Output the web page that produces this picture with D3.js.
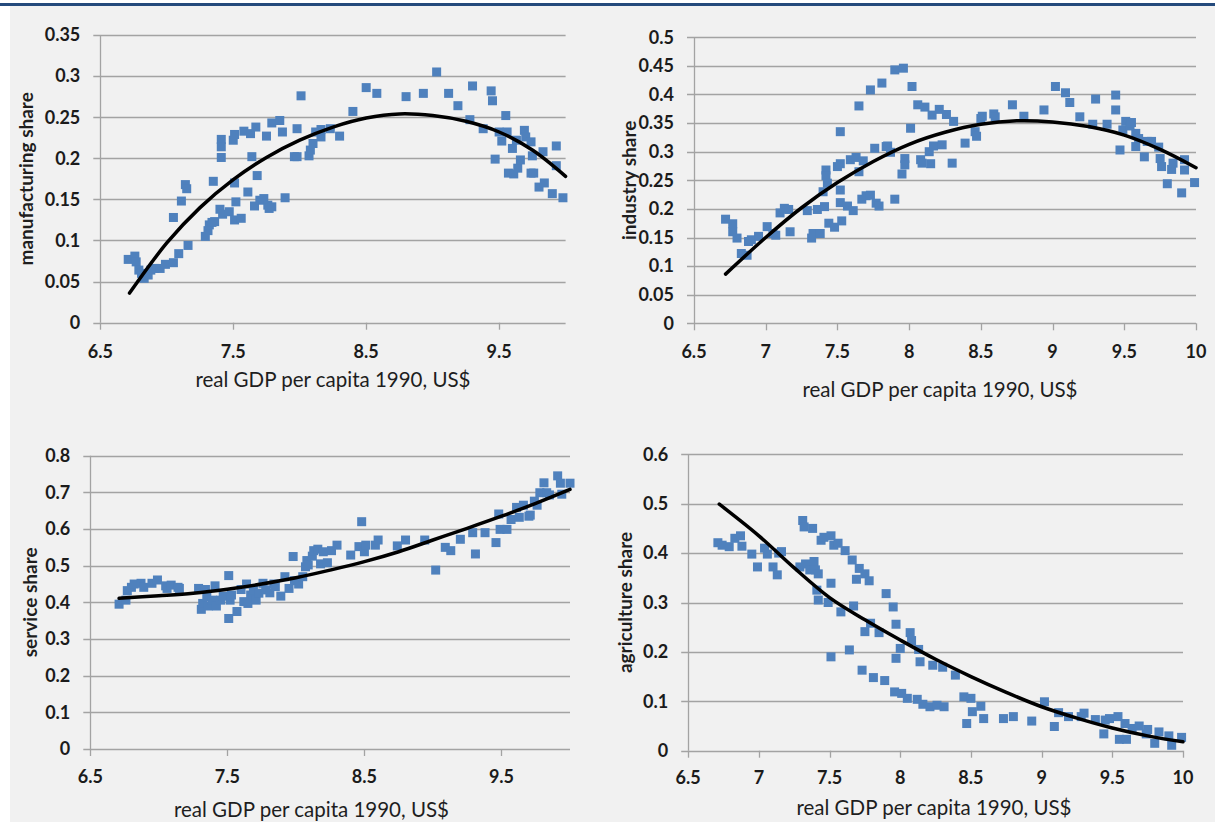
<!DOCTYPE html>
<html>
<head>
<meta charset="utf-8">
<script src="https://cdn.jsdelivr.net/npm/d3@7"></script>
<style>
  body { margin: 0; background: #fff; }
  svg { display: block; }
  .tick-lab { font-family: Lato, "Open Sans", sans-serif; font-weight: bold; font-size: 18px; fill: #1b1b1b; }
  .x-title { font-family: Lato, "Open Sans", sans-serif; font-size: 20.5px; fill: #1e1e1e; }
  .y-title { font-family: Lato, "Open Sans", sans-serif; font-weight: bold; font-size: 19px; fill: #1e1e1e; }
</style>
</head>
<body>
<svg id="chart"></svg>
<script>
var w = 1215;
var h = 823;

// tick labels
var xTicksWide = [6.5, 7.5, 8.5, 9.5];
var xTicksHalf = [6.5, 7, 7.5, 8, 8.5, 9, 9.5, 10];
var yTicksManuf = [0, 0.05, 0.1, 0.15, 0.2, 0.25, 0.3, 0.35];
var yTicksIndus = [0, 0.05, 0.1, 0.15, 0.2, 0.25, 0.3, 0.35, 0.4, 0.45, 0.5];
var yTicksServ = [0, 0.1, 0.2, 0.3, 0.4, 0.5, 0.6, 0.7, 0.8];
var yTicksAgri = [0, 0.1, 0.2, 0.3, 0.4, 0.5, 0.6];

// scatter points [log gdp, share]
var manufacturingPts = [
  [6.71,0.077],[6.76,0.081],[6.77,0.074],[6.79,0.064],[6.81,0.060],[6.83,0.054],[6.86,0.058],
  [6.88,0.064],[6.91,0.066],[6.95,0.066],[6.99,0.071],[7.05,0.073],[7.09,0.084],[7.05,0.128],
  [7.11,0.148],[7.14,0.168],[7.15,0.163],[7.16,0.094],[7.29,0.105],[7.31,0.112],[7.32,0.119],
  [7.34,0.122],[7.36,0.123],[7.35,0.172],[7.40,0.138],[7.41,0.201],[7.41,0.223],[7.41,0.214],
  [7.42,0.132],[7.47,0.135],[7.50,0.222],[7.51,0.229],[7.51,0.170],[7.51,0.125],[7.52,0.147],
  [7.56,0.127],[7.58,0.233],[7.61,0.159],[7.63,0.230],[7.64,0.202],[7.66,0.142],[7.67,0.238],
  [7.68,0.179],[7.70,0.149],[7.73,0.151],[7.75,0.227],[7.76,0.143],[7.77,0.139],[7.79,0.243],
  [7.79,0.141],[7.85,0.246],[7.87,0.232],[7.89,0.152],[7.96,0.202],[7.98,0.236],[7.98,0.202],
  [8.01,0.276],[8.07,0.203],[8.08,0.210],[8.10,0.218],[8.12,0.232],[8.16,0.226],[8.16,0.235],
  [8.23,0.236],[8.30,0.227],[8.40,0.257],[8.50,0.286],[8.58,0.279],[8.80,0.275],[8.93,0.279],
  [9.03,0.305],[9.12,0.279],[9.19,0.264],[9.28,0.247],[9.30,0.288],[9.38,0.236],[9.44,0.282],
  [9.45,0.270],[9.47,0.199],[9.50,0.232],[9.52,0.221],[9.55,0.252],[9.56,0.232],[9.57,0.182],
  [9.60,0.212],[9.61,0.181],[9.63,0.222],[9.64,0.188],[9.66,0.198],[9.69,0.234],[9.70,0.226],
  [9.74,0.182],[9.74,0.220],[9.76,0.182],[9.75,0.203],[9.80,0.165],[9.83,0.208],[9.84,0.170],
  [9.90,0.157],[9.93,0.191],[9.93,0.215],[9.98,0.152]
];
var industryPts = [
  [6.72,0.182],[6.77,0.174],[6.77,0.160],[6.80,0.149],[6.83,0.122],[6.87,0.119],[6.88,0.143],
  [6.90,0.146],[6.95,0.152],[7.01,0.169],[7.05,0.157],[7.07,0.154],[7.10,0.193],[7.13,0.201],
  [7.16,0.199],[7.17,0.160],[7.29,0.197],[7.32,0.149],[7.33,0.157],[7.36,0.199],[7.38,0.157],
  [7.40,0.230],[7.41,0.204],[7.42,0.268],[7.42,0.258],[7.43,0.245],[7.44,0.175],[7.48,0.168],
  [7.50,0.274],[7.52,0.279],[7.52,0.335],[7.52,0.233],[7.52,0.211],[7.53,0.179],[7.57,0.205],
  [7.59,0.286],[7.61,0.197],[7.63,0.290],[7.65,0.265],[7.65,0.380],[7.68,0.284],[7.67,0.217],
  [7.70,0.223],[7.73,0.408],[7.73,0.224],[7.76,0.306],[7.77,0.210],[7.79,0.205],[7.81,0.420],
  [7.84,0.309],[7.85,0.310],[7.87,0.299],[7.90,0.217],[7.90,0.443],[7.95,0.261],[7.96,0.446],
  [7.97,0.288],[7.97,0.277],[8.02,0.414],[8.01,0.341],[8.06,0.382],[8.08,0.286],[8.09,0.280],
  [8.11,0.378],[8.14,0.300],[8.15,0.279],[8.16,0.364],[8.17,0.310],[8.21,0.374],[8.23,0.312],
  [8.26,0.365],[8.30,0.280],[8.31,0.353],[8.39,0.315],[8.46,0.335],[8.47,0.327],[8.50,0.358],
  [8.51,0.362],[8.59,0.366],[8.60,0.361],[8.72,0.382],[8.80,0.362],[8.94,0.373],[9.02,0.414],
  [9.09,0.403],[9.12,0.386],[9.19,0.361],[9.28,0.348],[9.30,0.392],[9.38,0.348],[9.44,0.399],
  [9.44,0.373],[9.47,0.303],[9.49,0.338],[9.51,0.353],[9.54,0.345],[9.55,0.351],[9.58,0.332],
  [9.58,0.309],[9.60,0.323],[9.64,0.291],[9.66,0.318],[9.69,0.318],[9.74,0.308],[9.75,0.288],
  [9.76,0.274],[9.80,0.244],[9.83,0.269],[9.84,0.280],[9.90,0.228],[9.92,0.268],[9.92,0.286],
  [9.99,0.246]
];
var servicePts = [
  [6.71,0.395],[6.76,0.406],[6.77,0.432],[6.80,0.441],[6.82,0.450],[6.87,0.452],[6.89,0.441],
  [6.95,0.452],[6.99,0.461],[7.05,0.445],[7.06,0.438],[7.09,0.447],[7.14,0.441],[7.15,0.438],
  [7.29,0.438],[7.31,0.381],[7.32,0.397],[7.34,0.435],[7.35,0.415],[7.36,0.390],[7.39,0.406],
  [7.41,0.445],[7.42,0.390],[7.45,0.406],[7.47,0.417],[7.51,0.473],[7.51,0.356],[7.52,0.406],
  [7.53,0.420],[7.57,0.375],[7.60,0.435],[7.62,0.402],[7.64,0.450],[7.65,0.397],[7.67,0.420],
  [7.69,0.434],[7.71,0.406],[7.73,0.425],[7.76,0.452],[7.78,0.434],[7.81,0.426],[7.84,0.450],
  [7.85,0.443],[7.89,0.417],[7.92,0.470],[7.95,0.438],[7.98,0.525],[7.99,0.459],[8.02,0.450],
  [8.05,0.470],[8.07,0.497],[8.08,0.514],[8.09,0.502],[8.12,0.526],[8.13,0.541],[8.16,0.545],
  [8.18,0.505],[8.20,0.538],[8.23,0.508],[8.26,0.541],[8.30,0.556],[8.40,0.529],[8.46,0.552],
  [8.48,0.620],[8.50,0.538],[8.51,0.556],[8.58,0.556],[8.60,0.570],[8.74,0.554],[8.80,0.570],
  [8.94,0.570],[9.02,0.488],[9.09,0.550],[9.13,0.541],[9.20,0.572],[9.29,0.590],[9.31,0.532],
  [9.38,0.590],[9.46,0.563],[9.48,0.641],[9.49,0.599],[9.54,0.599],[9.57,0.626],[9.61,0.659],
  [9.63,0.632],[9.66,0.665],[9.70,0.635],[9.71,0.638],[9.74,0.676],[9.76,0.665],[9.78,0.699],
  [9.81,0.726],[9.83,0.699],[9.85,0.693],[9.91,0.745],[9.93,0.725],[9.94,0.695],[10.0,0.725]
];
var agriculturePts = [
  [6.71,0.421],[6.74,0.416],[6.79,0.413],[6.83,0.430],[6.87,0.435],[6.88,0.414],[6.95,0.398],
  [6.99,0.372],[7.04,0.410],[7.06,0.398],[7.10,0.372],[7.13,0.356],[7.14,0.400],[7.16,0.403],
  [7.29,0.372],[7.31,0.466],[7.32,0.453],[7.33,0.378],[7.36,0.366],[7.38,0.450],[7.39,0.383],
  [7.40,0.366],[7.41,0.325],[7.42,0.305],[7.42,0.358],[7.44,0.426],[7.46,0.432],[7.49,0.300],
  [7.51,0.435],[7.51,0.339],[7.51,0.190],[7.53,0.416],[7.56,0.420],[7.58,0.281],[7.61,0.405],
  [7.64,0.204],[7.66,0.386],[7.67,0.293],[7.69,0.347],[7.71,0.369],[7.73,0.163],[7.75,0.241],
  [7.75,0.358],[7.78,0.344],[7.79,0.258],[7.81,0.148],[7.85,0.239],[7.89,0.142],[7.90,0.318],
  [7.95,0.291],[7.96,0.119],[7.97,0.187],[7.97,0.256],[8.00,0.207],[8.01,0.116],[8.07,0.239],
  [8.05,0.106],[8.08,0.223],[8.12,0.104],[8.13,0.205],[8.14,0.180],[8.16,0.094],[8.21,0.089],
  [8.23,0.173],[8.26,0.092],[8.30,0.169],[8.31,0.089],[8.39,0.153],[8.45,0.109],[8.47,0.055],
  [8.50,0.106],[8.51,0.079],[8.57,0.090],[8.59,0.065],[8.73,0.065],[8.80,0.069],[8.93,0.060],
  [9.02,0.099],[9.09,0.049],[9.12,0.077],[9.19,0.069],[9.28,0.069],[9.30,0.076],[9.38,0.063],
  [9.44,0.034],[9.45,0.062],[9.48,0.065],[9.54,0.069],[9.55,0.023],[9.59,0.055],[9.60,0.023],
  [9.64,0.045],[9.69,0.050],[9.74,0.034],[9.75,0.043],[9.80,0.015],[9.83,0.038],[9.90,0.030],
  [9.92,0.011],[9.99,0.027]
];

// trend lines
var manufacturingTrend = [[6.72,0.036],[7.0,0.097],[7.25,0.140],[7.5,0.174],[7.75,0.201],[8.0,0.222],
  [8.25,0.238],[8.5,0.249],[8.75,0.254],[9.0,0.252],[9.25,0.245],[9.5,0.232],[9.75,0.210],[10.0,0.178]];
var industryTrend = [[6.72,0.086],[7.0,0.150],[7.25,0.202],[7.5,0.246],[7.75,0.283],[8.0,0.313],
  [8.25,0.334],[8.5,0.348],[8.75,0.354],[9.0,0.352],[9.25,0.344],[9.5,0.329],[9.75,0.304],[10.0,0.272]];
var serviceTrend = [[6.71,0.411],[7.0,0.418],[7.25,0.425],[7.5,0.436],[7.75,0.450],[8.0,0.467],
  [8.25,0.488],[8.5,0.511],[8.75,0.538],[9.0,0.570],[9.25,0.602],[9.5,0.635],[9.75,0.670],[10.0,0.708]];
var agricultureTrend = [[6.72,0.499],[7.0,0.435],[7.25,0.370],[7.5,0.310],[7.75,0.265],[8.0,0.224],
  [8.25,0.185],[8.5,0.150],[8.75,0.118],[9.0,0.089],[9.25,0.066],[9.5,0.046],[9.75,0.030],[10.0,0.018]];

var panels = [
  {pts: manufacturingPts, trend: manufacturingTrend, yMax: 0.35, yTicks: yTicksManuf, xTicks: xTicksWide,
   left: 100.3, right: 565.6, top: 35, bottom: 322.7, yTitle: "manufacturing share", yTitleX: 26,
   xTitleX: 333, xTitleY: 380, xLabY: 352},
  {pts: industryPts, trend: industryTrend, yMax: 0.5, yTicks: yTicksIndus, xTicks: xTicksHalf,
   left: 694, right: 1196, top: 37.3, bottom: 323.3, yTitle: "industry share", yTitleX: 629,
   xTitleX: 940, xTitleY: 390, xLabY: 352},
  {pts: servicePts, trend: serviceTrend, yMax: 0.8, yTicks: yTicksServ, xTicks: xTicksWide,
   left: 90.3, right: 570, top: 455.7, bottom: 749, yTitle: "service share", yTitleX: 30,
   xTitleX: 311.5, xTitleY: 810, xLabY: 777},
  {pts: agriculturePts, trend: agricultureTrend, yMax: 0.6, yTicks: yTicksAgri, xTicks: xTicksHalf,
   left: 688.2, right: 1183, top: 454.3, bottom: 750.7, yTitle: "agriculture share", yTitleX: 625,
   xTitleX: 934, xTitleY: 808, xLabY: 778}
];

var svg = d3.select("#chart")
  .attr("width", w)
  .attr("height", h);

// page background
svg.append("rect").attr("x", 0).attr("y", 0).attr("width", w).attr("height", h).attr("fill", "#fff");
svg.append("rect").attr("x", 10).attr("y", 0).attr("width", w - 10).attr("height", h - 1).attr("fill", "#f1f1f1");
svg.append("rect").attr("x", 0).attr("y", 0).attr("width", w).attr("height", 3).attr("fill", "#fff");
svg.append("rect").attr("x", 0).attr("y", 3).attr("width", w).attr("height", 3).attr("fill", "#244a7c");

panels.forEach(function(p){
  var xScale = d3.scaleLinear().domain([6.5, 10]).range([p.left, p.right]);
  var yScale = d3.scaleLinear().domain([0, p.yMax]).range([p.bottom, p.top]);
  var g = svg.append("g");

  // gridlines (with the small tick stub left of the axis)
  g.selectAll(".grid")
    .data(p.yTicks)
    .enter()
    .append("line")
    .attr("x1", p.left - 7)
    .attr("x2", p.right)
    .attr("y1", function(d){ return Math.round(yScale(d)) + 0.5; })
    .attr("y2", function(d){ return Math.round(yScale(d)) + 0.5; })
    .attr("stroke", "#a3a3a3")
    .attr("stroke-width", 1.3);

  // y axis line
  g.append("line")
    .attr("x1", Math.round(p.left) + 0.5).attr("x2", Math.round(p.left) + 0.5)
    .attr("y1", p.top).attr("y2", p.bottom)
    .attr("stroke", "#a3a3a3").attr("stroke-width", 1.3);

  // x tick marks
  g.selectAll(".xtick")
    .data(p.xTicks)
    .enter()
    .append("line")
    .attr("x1", function(d){ return Math.round(xScale(d)) + 0.5; })
    .attr("x2", function(d){ return Math.round(xScale(d)) + 0.5; })
    .attr("y1", p.bottom)
    .attr("y2", p.bottom + 7)
    .attr("stroke", "#a3a3a3").attr("stroke-width", 1.3);

  g.selectAll(".xlab")
    .data(p.xTicks)
    .enter()
    .append("text")
    .attr("class", "tick-lab")
    .attr("x", function(d){ return xScale(d); })
    .attr("y", p.xLabY)
    .attr("dy", "0.35em")
    .attr("text-anchor", "middle")
    .text(function(d){ return d; });

  g.selectAll(".ylab")
    .data(p.yTicks)
    .enter()
    .append("text")
    .attr("class", "tick-lab")
    .attr("x", p.left - 20)
    .attr("y", function(d){ return yScale(d); })
    .attr("dy", "0.35em")
    .attr("text-anchor", "end")
    .text(function(d){ return d; });

  // points
  g.selectAll(".pt")
    .data(p.pts)
    .enter()
    .append("rect")
    .attr("x", function(d){ return xScale(d[0]) - 4.5; })
    .attr("y", function(d){ return yScale(d[1]) - 4.5; })
    .attr("width", 9)
    .attr("height", 9)
    .attr("fill", "#4f81bd");

  // trend
  var line = d3.line()
    .x(function(d){ return xScale(d[0]); })
    .y(function(d){ return yScale(d[1]); })
    .curve(d3.curveCatmullRom);
  g.append("path")
    .attr("d", line(p.trend))
    .attr("fill", "none")
    .attr("stroke", "#000")
    .attr("stroke-width", 3.5)
    .attr("stroke-linecap", "round");

  g.append("text")
    .attr("class", "x-title")
    .attr("x", p.xTitleX)
    .attr("y", p.xTitleY)
    .attr("dy", "0.35em")
    .attr("text-anchor", "middle")
    .text("real GDP per capita 1990, US$");

  g.append("text")
    .attr("class", "y-title")
    .attr("transform", "translate(" + p.yTitleX + "," + ((p.top + p.bottom) / 2) + ") rotate(-90)")
    .attr("dy", "0.35em")
    .attr("text-anchor", "middle")
    .text(p.yTitle);
});
</script>
</body>
</html>
